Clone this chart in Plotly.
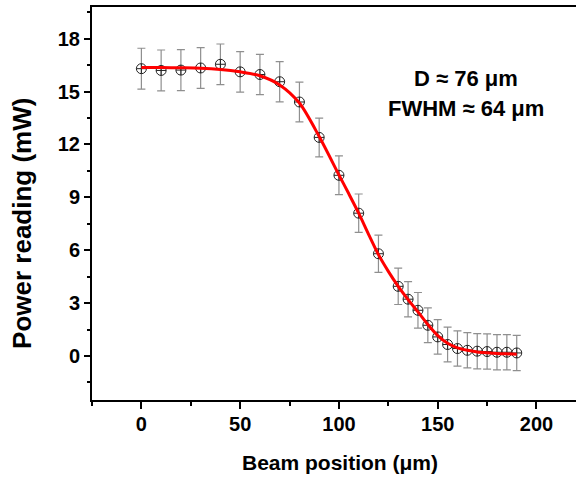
import plotly.graph_objects as go

# Measured data (beam position in µm, power in mW)
positions = [0, 10, 20, 30, 40, 50, 60, 70, 80, 90, 100, 110, 120, 130,
             135, 140, 145, 150, 155, 160, 165, 170, 175, 180, 185, 190]
power = [16.30, 16.20, 16.22, 16.34, 16.55, 16.12, 15.97, 15.56, 14.41, 12.40,
         10.25, 8.10, 5.80, 3.95, 3.22, 2.59, 1.74, 1.08, 0.65, 0.42,
         0.32, 0.27, 0.25, 0.21, 0.21, 0.17]
power_err = [1.16, 1.16, 1.16, 1.16, 1.15, 1.15, 1.14, 1.14, 1.13, 1.10,
             1.10, 1.09, 1.06, 1.03, 1.00, 1.01, 0.99, 0.98, 0.99, 1.00,
             1.00, 1.00, 1.00, 1.00, 1.00, 1.00]

# Fit curve
fit_x = [0, 10, 20, 30, 40, 50, 60, 70, 80, 90, 100, 105, 110, 115, 120, 125,
         130, 135, 140, 145, 150, 155, 160, 165, 170, 175, 180, 185, 190]
fit_y = [16.36, 16.36, 16.35, 16.33, 16.26, 16.12, 15.90, 15.38, 14.35, 12.45,
         10.27, 9.20, 8.10, 6.90, 5.75, 4.80, 3.95, 3.20, 2.50, 1.78,
         1.15, 0.72, 0.46, 0.32, 0.23, 0.18, 0.14, 0.12, 0.10]

x_ticks = [0, 50, 100, 150, 200]
y_ticks = [0, 3, 6, 9, 12, 15, 18]

FONT = "Arial, 'Liberation Sans', Helvetica, sans-serif"

fig = go.Figure()

fig.add_trace(go.Scatter(
    x=positions, y=power, mode="markers",
    error_y=dict(type="data", array=power_err, visible=True,
                 color="#8f8f8f", thickness=1.2, width=4),
    marker=dict(symbol="circle-cross-open", size=10,
                color="#222222", line=dict(width=1, color="#222222")),
    showlegend=False,
))

fig.add_trace(go.Scatter(
    x=fit_x, y=fit_y, mode="lines",
    line=dict(color="#ff0000", width=3, shape="spline", smoothing=0.8),
    showlegend=False,
))

fig.add_annotation(x=0.773, y=0.819, xref="paper", yref="paper",
                   text="D ≈ 76 μm", showarrow=False,
                   font=dict(family=FONT, size=22, color="black", weight="bold"),
                   xanchor="center", yanchor="middle")
fig.add_annotation(x=0.773, y=0.743, xref="paper", yref="paper",
                   text="FWHM ≈ 64 μm", showarrow=False,
                   font=dict(family=FONT, size=22, color="black", weight="bold"),
                   xanchor="center", yanchor="middle")

# Axis titles as annotations for exact placement
fig.add_annotation(x=0.512, y=-0.158, xref="paper", yref="paper",
                   text="Beam position (μm)", showarrow=False,
                   font=dict(family=FONT, size=21, color="black", weight="bold"),
                   xanchor="center", yanchor="middle")
fig.add_annotation(x=-0.1446, y=0.448, xref="paper", yref="paper",
                   text="Power reading (mW)", showarrow=False, textangle=-90,
                   font=dict(family=FONT, size=26, color="black", weight="bold"),
                   xanchor="center", yanchor="middle")

fig.update_layout(
    width=576, height=477,
    margin=dict(l=92, r=0, t=7, b=77),
    paper_bgcolor="white", plot_bgcolor="white",
    font=dict(family=FONT, color="black"),
)

fig.update_xaxes(
    range=[-25, 220], tickvals=x_ticks, automargin=False,
    showgrid=False, zeroline=False,
    showline=True, linecolor="black", linewidth=2, mirror=True,
    ticks="outside", ticklen=7, tickwidth=1.5, tickcolor="black",
    minor=dict(dtick=25, tick0=0, ticks="outside", ticklen=4, tickwidth=1.5, tickcolor="black"),
    tickfont=dict(family=FONT, size=20, color="black", weight="bold"),
    ticklabelstandoff=-2,
)

fig.update_yaxes(
    range=[-2.5, 19.8], tickvals=y_ticks, automargin=False,
    showgrid=False, zeroline=False,
    showline=True, linecolor="black", linewidth=2, mirror=False,
    ticks="outside", ticklen=6, tickwidth=1.5, tickcolor="black",
    minor=dict(dtick=1.5, tick0=0, ticks="outside", ticklen=3, tickwidth=1.5, tickcolor="black"),
    tickfont=dict(family=FONT, size=20, color="black", weight="bold"),
)

fig.write_html(
    "out.html",
    config={"displayModeBar": False},
    post_script="document.body.style.margin='0';document.body.style.overflow='hidden';",
)
